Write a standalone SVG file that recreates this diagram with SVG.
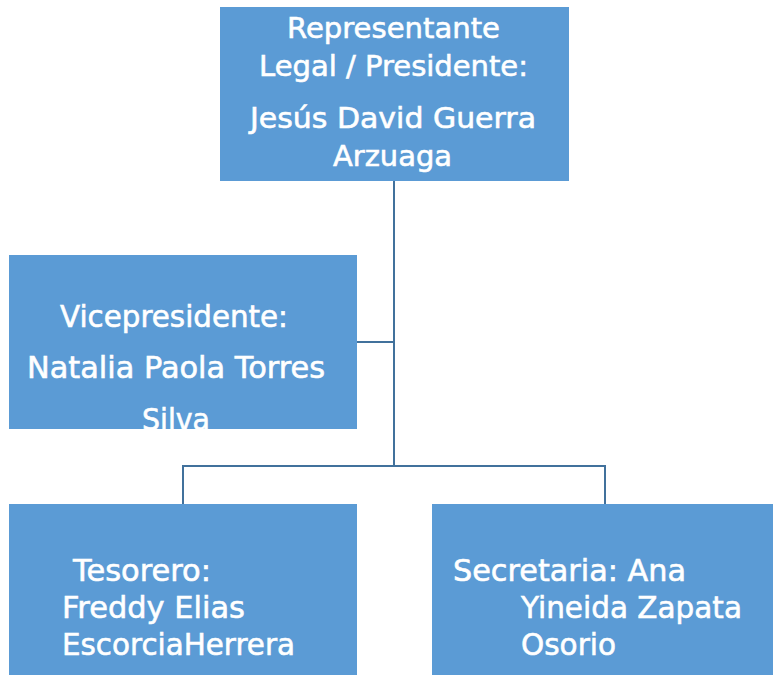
<svg xmlns="http://www.w3.org/2000/svg" width="773" height="675" viewBox="0 0 773 675">
<style>
.box{fill:#5B9BD5}
.t{font-family:"DejaVu Sans","Liberation Sans",sans-serif;font-size:29px;fill:#FFFFFF;stroke:#FFFFFF;stroke-width:0.6px}
.v{font-size:30px}
.b{font-size:31px}
.c{fill:none;stroke:#41719C;stroke-width:2}
</style>
<defs>
<clipPath id="clipVice"><rect x="9" y="255" width="348" height="174"/></clipPath>
</defs>
<rect width="773" height="675" fill="#FFFFFF"/>
<g id="connectors">
<path class="c" d="M394 181 V466"/>
<path class="c" d="M357 342 H394"/>
<path class="c" d="M183 504 V466 H605 V504"/>
</g>
<g id="presidente">
<rect class="box" x="220" y="7" width="349" height="174"/>
<text class="t" x="287" y="38" textLength="213" lengthAdjust="spacingAndGlyphs">Representante</text>
<text class="t" x="259" y="76" textLength="269" lengthAdjust="spacingAndGlyphs">Legal / Presidente:</text>
<text class="t" x="250" y="128" textLength="286" lengthAdjust="spacingAndGlyphs">Jesús David Guerra</text>
<text class="t" x="333" y="166" textLength="119" lengthAdjust="spacingAndGlyphs">Arzuaga</text>
</g>
<g id="vicepresidente">
<rect class="box" x="9" y="255" width="348" height="174"/>
<g clip-path="url(#clipVice)">
<text class="t v" x="60" y="327" textLength="228" lengthAdjust="spacingAndGlyphs">Vicepresidente:</text>
<text class="t v" x="27" y="378" textLength="298" lengthAdjust="spacingAndGlyphs">Natalia Paola Torres</text>
<text class="t v" x="142" y="430" textLength="68" lengthAdjust="spacingAndGlyphs">Silva</text>
</g>
</g>
<g id="tesorero">
<rect class="box" x="9" y="504" width="348" height="171"/>
<text class="t b" x="73" y="581" textLength="138" lengthAdjust="spacingAndGlyphs">Tesorero:</text>
<text class="t b" x="62" y="618" textLength="183" lengthAdjust="spacingAndGlyphs">Freddy Elias</text>
<text class="t b" x="62" y="655" textLength="233" lengthAdjust="spacingAndGlyphs">EscorciaHerrera</text>
</g>
<g id="secretaria">
<rect class="box" x="432" y="504" width="341" height="171"/>
<text class="t b" x="453" y="581" textLength="233" lengthAdjust="spacingAndGlyphs">Secretaria: Ana</text>
<text class="t b" x="521" y="618" textLength="221" lengthAdjust="spacingAndGlyphs">Yineida Zapata</text>
<text class="t b" x="521" y="655" textLength="95" lengthAdjust="spacingAndGlyphs">Osorio</text>
</g>
</svg>
